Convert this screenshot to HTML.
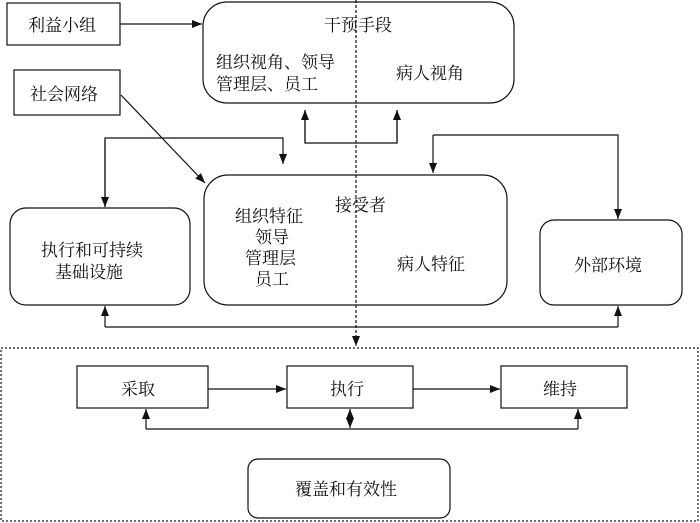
<!DOCTYPE html>
<html><head><meta charset="utf-8"><style>
html,body{margin:0;padding:0;background:#fff;}
svg{display:block;}
text{font-family:"Liberation Serif","Noto Serif CJK SC","Noto Sans CJK SC",serif;font-size:17px;fill:#111;}
</style></head><body>
<svg width="700" height="523" viewBox="0 0 700 523" xmlns="http://www.w3.org/2000/svg">
<defs>
<marker id="a" markerWidth="10" markerHeight="8" refX="10" refY="4" orient="auto" markerUnits="userSpaceOnUse">
<path d="M0,0 L10,4 L0,8 z" fill="#111"/></marker>
</defs>
<g fill="none" stroke="#111" stroke-width="1.2">
<rect x="7" y="3" width="113" height="42"/>
<rect x="14" y="70" width="106" height="45"/>
<rect x="203" y="2" width="311" height="101" rx="24"/>
<rect x="204" y="175" width="303" height="130" rx="24"/>
<rect x="10" y="208" width="180" height="97" rx="16"/>
<rect x="540" y="220" width="142" height="85" rx="14"/>
<rect x="1" y="348" width="697" height="173" stroke-dasharray="2,2"/>
<rect x="77" y="366" width="131" height="42"/>
<rect x="287" y="366" width="126" height="42"/>
<rect x="501" y="366" width="126" height="42"/>
<rect x="248" y="459" width="202" height="59" rx="10"/>
<line x1="356" y1="0" x2="356" y2="346" stroke-dasharray="3,2" marker-end="url(#a)"/>
<line x1="120" y1="24" x2="202" y2="24" marker-end="url(#a)"/>
<line x1="121" y1="95" x2="205" y2="183" marker-end="url(#a)"/>
<polyline points="105,207 105,138 283,138 283,164" marker-end="url(#a)"/>
<line x1="105" y1="140" x2="105" y2="207" marker-end="url(#a)"/>
<polyline points="305,110 305,143 397,143 397,110"/>
<line x1="305" y1="143" x2="305" y2="110" marker-end="url(#a)"/>
<line x1="397" y1="143" x2="397" y2="110" marker-end="url(#a)"/>
<polyline points="433,135 618,135 618,219" marker-end="url(#a)"/>
<line x1="433" y1="135" x2="433" y2="173" marker-end="url(#a)"/>
<polyline points="105,327 618,327"/>
<line x1="105" y1="327" x2="105" y2="306" marker-end="url(#a)"/>
<line x1="618" y1="327" x2="618" y2="306" marker-end="url(#a)"/>
<line x1="208" y1="389" x2="286" y2="389" marker-end="url(#a)"/>
<line x1="413" y1="389" x2="500" y2="389" marker-end="url(#a)"/>
<polyline points="146,429 578,429"/>
<line x1="146" y1="429" x2="146" y2="409" marker-end="url(#a)"/>
<line x1="578" y1="429" x2="578" y2="409" marker-end="url(#a)"/>
<line x1="350" y1="420" x2="350" y2="409" marker-end="url(#a)"/>
<line x1="350" y1="418" x2="350" y2="428" marker-end="url(#a)"/>
</g>
<text x="28" y="31">利益小组</text>
<text x="30" y="100">社会网络</text>
<text x="324" y="31">干预手段</text>
<text x="216" y="68">组织视角、领导</text>
<text x="216" y="90">管理层、员工</text>
<text x="396" y="79">病人视角</text>
<text x="335" y="211">接受者</text>
<text x="235" y="222">组织特征</text>
<text x="255" y="243">领导</text>
<text x="245" y="264">管理层</text>
<text x="255" y="285">员工</text>
<text x="397" y="270">病人特征</text>
<text x="41" y="256">执行和可持续</text>
<text x="55" y="278">基础设施</text>
<text x="574" y="271">外部环境</text>
<text x="121" y="395">采取</text>
<text x="330" y="395">执行</text>
<text x="543" y="395">维持</text>
<text x="295" y="495">覆盖和有效性</text>
</svg>
</body></html>
